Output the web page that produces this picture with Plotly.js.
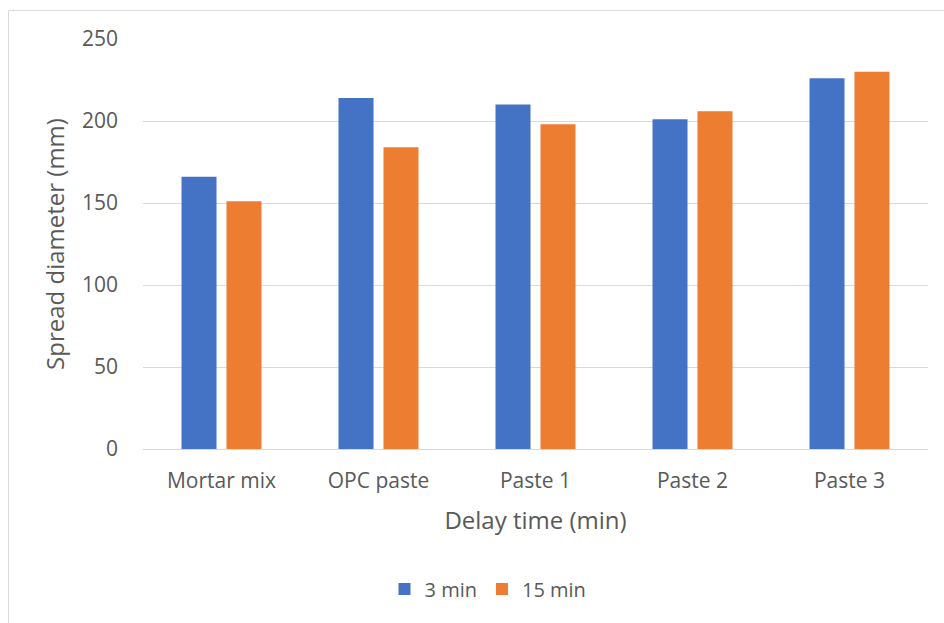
<!DOCTYPE html>
<html>
<head>
<meta charset="utf-8">
<script src="https://cdn.plot.ly/plotly-3.0.1.min.js"></script>
<style>
html,body{margin:0;padding:0;background:#fff;}
#chart{width:944px;height:623px;}
</style>
</head>
<body>
<div id="chart"></div>
<script>
const categories = ["Mortar mix", "OPC paste", "Paste 1", "Paste 2", "Paste 3"];
const series1Name = "3 min";
const series1Values = [166, 214, 210, 201, 226];
const series2Name = "15 min";
const series2Values = [151, 184, 198, 206, 230];
const yTicks = [0, 50, 100, 150, 200, 250];

const fontFam = '"Open Sans", "DejaVu Sans", sans-serif';
const grey = '#595959';

const traces = [
  {type:'bar', name:series1Name, x:categories, y:series1Values, marker:{color:'#4472C4'}, hoverinfo:'x+y'},
  {type:'bar', name:series2Name, x:categories, y:series2Values, marker:{color:'#ED7D31'}, hoverinfo:'x+y'}
];

const L = 143, R = 16, T = 39, B = 174;
const W = 944, H = 623;
const pw = W - L - R, ph = H - T - B;

const layout = {
  width: W, height: H,
  margin: {l:L, r:R, t:T, b:B, pad:0},
  paper_bgcolor:'#fff', plot_bgcolor:'#fff',
  font:{family:fontFam, color:grey, size:20},
  barmode:'group', bargap:0.427, bargroupgap:0.222,
  showlegend:true,
  legend:{orientation:'h', x:(488-L)/pw, xanchor:'center', y:(449-589)/ph, yanchor:'middle',
          font:{size:20, color:grey}, itemwidth:30, traceorder:'normal'},
  xaxis:{
    type:'category', showgrid:false, zeroline:false,
    showline:true, linecolor:'#d9d9d9', linewidth:1,
    ticks:'', ticklabelstandoff:13, tickfont:{size:21, color:grey},
    title:{text:'Delay time (min)', font:{size:24, color:grey}, standoff:18}
  },
  yaxis:{
    range:[0,250], tickvals:yTicks, showgrid:true, gridcolor:'#d9d9d9', gridwidth:1,
    zeroline:false, showline:false, ticks:'', ticklabelstandoff:24,
    tickfont:{size:21, color:grey},
    title:{text:'Spread diameter (mm)', font:{size:24, color:grey}, standoff:10}
  },
  shapes:[{
    type:'rect', xref:'paper', yref:'paper', layer:'below',
    x0:(8.5-L)/pw, x1:(960-L)/pw, y0:(449-640)/ph, y1:(449-10.5)/ph,
    line:{color:'#d9d9d9', width:1}, fillcolor:'rgba(0,0,0,0)'
  }]
};

Plotly.newPlot('chart', traces, layout, {displayModeBar:false, staticPlot:true});
</script>
</body>
</html>
